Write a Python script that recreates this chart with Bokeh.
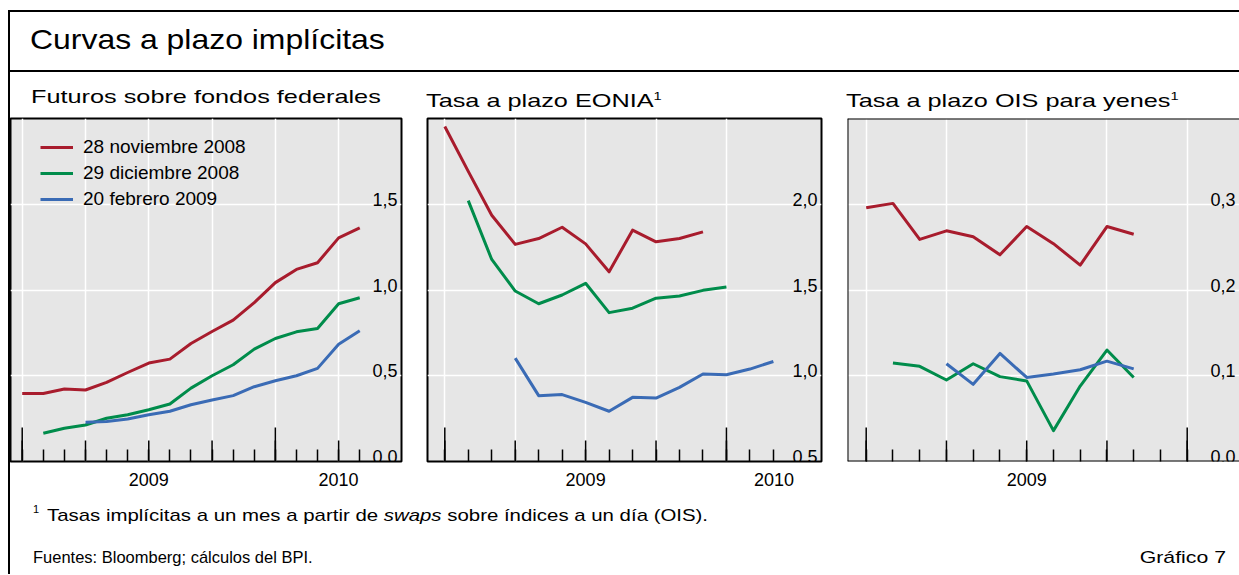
import math
from bokeh.plotting import figure
from bokeh.models import Range1d, FixedTicker, Grid, Span, Legend, LegendItem, Div
from bokeh.layouts import row, column
from bokeh.embed import file_html
from bokeh.resources import INLINE
from bokeh.core.properties import value

FONT = "Liberation Sans"

# ---------------- data ----------------
series_names = ["28 noviembre 2008", "29 diciembre 2008", "20 febrero 2009"]
series_colors = ["#A81C2D", "#008C4B", "#3A6BB5"]

year_labels = ["2009", "2010"]
year_start_months = [0, 12]          # month index 0 = enero 2009

# Futuros sobre fondos federales (month index of first point per series)
fed_start = [0, 1, 3]
fed_nov = [0.397, 0.397, 0.423, 0.417, 0.461, 0.519, 0.574, 0.597, 0.688, 0.758,
           0.824, 0.926, 1.043, 1.120, 1.159, 1.304, 1.362]
fed_dec = [0.165, 0.194, 0.213, 0.252, 0.273, 0.302, 0.335, 0.428, 0.500, 0.564,
           0.655, 0.717, 0.756, 0.775, 0.920, 0.955]
fed_feb = [0.229, 0.233, 0.248, 0.273, 0.293, 0.331, 0.359, 0.384, 0.436, 0.471,
           0.500, 0.543, 0.684, 0.762]
fed_months = [0, 1, 2, 3, 4, 5, 6, 7, 8, 9, 10, 11, 12, 13, 14, 15, 16]
fed_y_ticks = [0.0, 0.5, 1.0, 1.5]
fed_y_labels = ["0,0", "0,5", "1,0", "1,5"]

# Tasa a plazo EONIA
eonia_start = [0, 1, 3]
eonia_nov = [2.453, 2.192, 1.936, 1.766, 1.800, 1.866, 1.769, 1.606, 1.849, 1.781, 1.800, 1.839]
eonia_dec = [2.021, 1.678, 1.494, 1.420, 1.471, 1.539, 1.368, 1.394, 1.452, 1.465, 1.498, 1.517]
eonia_feb = [1.103, 0.884, 0.890, 0.845, 0.793, 0.874, 0.870, 0.932, 1.010, 1.006, 1.039, 1.083]
eonia_months = [0, 1, 2, 3, 4, 5, 6, 7, 8, 9, 10, 11, 12, 13, 14]
eonia_y_ticks = [0.5, 1.0, 1.5, 2.0]
eonia_y_labels = ["0,5", "1,0", "1,5", "2,0"]

# Tasa a plazo OIS para yenes
yen_start = [0, 1, 3]
yen_nov = [0.296, 0.301, 0.259, 0.269, 0.262, 0.241, 0.274, 0.254, 0.229, 0.274, 0.265]
yen_dec = [0.115, 0.111, 0.095, 0.114, 0.099, 0.094, 0.036, 0.088, 0.130, 0.098]
yen_feb = [0.114, 0.090, 0.126, 0.098, 0.102, 0.107, 0.117, 0.108]
yen_months = [0, 1, 2, 3, 4, 5, 6, 7, 8, 9, 10, 11, 12]
yen_y_ticks = [0.0, 0.1, 0.2, 0.3]
yen_y_labels = ["0,0", "0,1", "0,2", "0,3"]

# ---------------- layout constants ----------------
W = 1231
FRAME_H = 343
BOTTOM = 32
TITLE_H = 45
FOOT_H = 81


def make_panel(fw, mbl, mbr, xr, yr, starts, values, y_ticks, y_labels, months,
               label_dx, outline=True, legend_loc=None):
    p = figure(width=mbl + fw + mbr, height=1 + FRAME_H + BOTTOM,
               x_range=Range1d(*xr), y_range=Range1d(*yr),
               y_axis_location=None, toolbar_location=None, output_backend="svg",
               min_border_left=mbl, min_border_right=mbr, min_border_top=1,
               min_border_bottom=BOTTOM)
    p.margin = 0
    p.background_fill_color = "#E6E6E6"
    p.border_fill_color = "white"
    p.center = [r for r in p.center if not isinstance(r, Grid)]

    quarters = [m for m in months if m % 3 == 0]
    p.add_layout(Grid(dimension=0, ticker=FixedTicker(ticks=quarters),
                      grid_line_color="white", grid_line_width=1.5))
    p.add_layout(Grid(dimension=1, ticker=FixedTicker(ticks=y_ticks),
                      grid_line_color="white", grid_line_width=1.5))

    x0, x1 = xr
    pos, labs = [], []
    for lab, ys in zip(year_labels, year_start_months):
        a, b = max(ys, x0), min(ys + 12, x1)
        if b - a >= 3:
            pos.append((a + b) / 2)
            labs.append(lab)
    ax = p.xaxis[0]
    ax.ticker = FixedTicker(ticks=pos, minor_ticks=months)
    ax.major_label_overrides = dict(zip(pos, labs))
    ax.axis_line_color = None
    ax.major_tick_line_color = None
    ax.major_tick_in = 0
    ax.major_tick_out = 0
    ax.minor_tick_in = 12
    ax.minor_tick_out = 0
    ax.minor_tick_line_color = "black"
    ax.minor_tick_line_width = 1.5
    ax.major_label_text_font = FONT
    ax.major_label_text_font_size = "18px"
    ax.major_label_text_color = "black"
    ax.major_label_standoff = 11

    # medium (quarter) and long (year) inside ticks
    longs = [m for m in months if m in year_start_months]
    p.ray(x=quarters, y=[yr[0]] * len(quarters), length=21, length_units="screen",
          angle=math.pi / 2, line_color="black", line_width=1.5)
    p.ray(x=longs, y=[yr[0]] * len(longs), length=34, length_units="screen",
          angle=math.pi / 2, line_color="black", line_width=1.5)

    renderers = []
    for s, vals, col in zip(starts, values, series_colors):
        xs = [s + i for i in range(len(vals))]
        renderers.append(p.line(xs, vals, line_color=col, line_width=3, line_join="round"))

    p.text(x=[x1] * len(y_ticks), y=y_ticks, text=y_labels, text_align="right",
           text_baseline="alphabetic", x_offset=label_dx, y_offset=-5,
           text_font=value(FONT), text_font_size="18px", text_color="black")

    if outline:
        p.outline_line_color = "black"
        p.outline_line_width = 2
    else:
        p.outline_line_color = None
        for loc, dim in [(x0, "height"), (yr[0], "width"), (yr[1], "width")]:
            p.add_layout(Span(location=loc, dimension=dim, line_color="black", line_width=2))

    if legend_loc is not None:
        leg = Legend(items=[LegendItem(label=n, renderers=[r])
                            for n, r in zip(series_names, renderers)],
                     location=legend_loc, background_fill_alpha=0, border_line_color=None,
                     label_text_font=FONT, label_text_font_size="19px",
                     label_text_color="black", glyph_width=33, glyph_height=22,
                     label_height=22, spacing=4, padding=0, margin=0, label_standoff=10)
        p.add_layout(leg)
    return p


def title_div(html, width, pad_left):
    return Div(text=("<div style=\"font-family:'Liberation Sans';font-size:19px;line-height:19px;"
                     f"padding:15px 0 0 {pad_left}px;white-space:nowrap;color:black;"
                     f"transform:scaleX(1.33);transform-origin:{pad_left}px 0\">{html}</div>"),
               width=width, height=TITLE_H, margin=0)


def bar(w, h, color):
    return Div(text="", width=w, height=h, margin=0, styles={"background-color": color})


p1 = make_panel(391, 0, 13, (-0.555, 17.98), (0.0, 2.0), fed_start,
                [fed_nov, fed_dec, fed_feb], fed_y_ticks, fed_y_labels, fed_months,
                -4, legend_loc=(30, 251))
p2 = make_panel(394, 13, 13, (-0.737, 16.05), (0.5, 2.5), eonia_start,
                [eonia_nov, eonia_dec, eonia_feb], eonia_y_ticks, eonia_y_labels,
                eonia_months, -4)
p3 = make_panel(392, 13, 0, (-0.699, 13.955), (0.0, 0.4), yen_start,
                [yen_nov, yen_dec, yen_feb], yen_y_ticks, yen_y_labels, yen_months,
                -4, outline=False)

sup = '<span style="font-size:11px;vertical-align:7px">1</span>'
t1 = title_div("Futuros sobre fondos federales", 404, 21)
t2 = title_div("Tasa a plazo EONIA" + sup, 420, 12)
t3 = title_div("Tasa a plazo OIS para yenes" + sup, 405, 12)

header = Div(text=("<div style=\"font-family:'Liberation Sans';font-size:28px;line-height:28px;"
                   "padding:14px 0 0 20px;white-space:nowrap;color:black;"
                   "transform:scaleX(1.14);transform-origin:20px 0\">Curvas a plazo implícitas</div>"),
             width=W - 2, height=58, margin=0)

footer = Div(text=(
    "<div style=\"position:relative;width:1229px;height:81px;font-family:'Liberation Sans';"
    "font-size:17px;line-height:17px;color:black\">"
    "<div style=\"position:absolute;left:23px;top:11px;font-size:11px;line-height:11px;"
    "white-space:nowrap\">1</div>"
    "<div style=\"position:absolute;left:37px;top:14px;white-space:nowrap;"
    "transform:scaleX(1.2);transform-origin:0 0\">"
    "Tasas implícitas a un mes a partir de <i>swaps</i> "
    "sobre índices a un día (OIS).</div>"
    "<div style=\"position:absolute;left:23px;top:56px;white-space:nowrap;"
    "transform:scaleX(0.97);transform-origin:0 0\">"
    "Fuentes: Bloomberg; cálculos del BPI.</div>"
    "<div style=\"position:absolute;right:13px;top:56px;white-space:nowrap;"
    "transform:scaleX(1.25);transform-origin:100% 0\">Gráfico 7</div>"
    "</div>"), width=W - 2, height=FOOT_H, margin=0)

PH = TITLE_H + 1 + FRAME_H + BOTTOM
body = column(
    bar(W, 10, "white"),
    bar(W, 2, "black"),
    row(bar(2, 58, "black"), header),
    bar(W, 2, "black"),
    row(bar(2, PH, "black"), column(t1, p1), column(t2, p2), column(t3, p3)),
    row(bar(2, FOOT_H, "black"), footer),
)
layout = row(bar(8, 10 + 2 + 58 + 2 + PH + FOOT_H, "white"), body)

open("out.html", "w").write(file_html(layout, INLINE, title="Curvas a plazo implícitas"))
